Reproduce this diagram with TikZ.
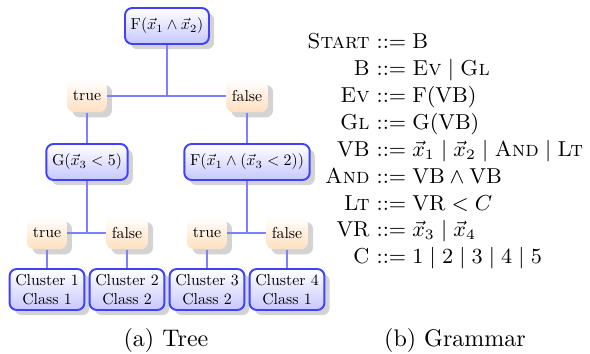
\documentclass[tikz,border=0pt]{standalone}
\usetikzlibrary{shadows}
\begin{document}
\begin{tikzpicture}[x=0.41667pt,y=-0.41667pt,
  bluebox/.style={scale=0.66, draw=blue!75, line width=0.8pt, rounded corners=3pt,
    top color=white, bottom color=blue!22, inner xsep=3.6pt, inner ysep=3pt,
    minimum height=22.7pt, drop shadow={opacity=0.35}, align=center},
  leafbox/.style={bluebox, minimum height=25.9pt},
  orangebox/.style={scale=0.66, rounded corners=3pt,
    top color=white, bottom color=orange!25, inner xsep=3.6pt, inner ysep=3pt,
    minimum height=20.5pt, drop shadow={opacity=0.35}},
  edge/.style={draw=blue!50, line width=0.55pt},
  lhs/.style={anchor=base east, inner sep=0pt, font=\small},
  rhs/.style={anchor=base west, inner sep=0pt, font=\small},
  captext/.style={anchor=base, inner sep=0pt}]
\useasboundingbox (0,0) rectangle (590,354);
% tree
\node[bluebox] (root) at (167,26) {F$(\vec{x}_1 \wedge \vec{x}_2)$};
\node[orangebox] (t1) at (87,96) {true};
\node[orangebox] (f1) at (247,96) {false};
\node[bluebox] (g) at (87,162) {G$(\vec{x}_3 < 5)$};
\node[bluebox] (f) at (247,162) {F$(\vec{x}_1 \wedge (\vec{x}_3 < 2))$};
\node[orangebox] (t2) at (47,233) {true};
\node[orangebox] (f2) at (127,233) {false};
\node[orangebox] (t3) at (207,233) {true};
\node[orangebox] (f3) at (287,233) {false};
\node[leafbox] (c1) at (47,289.5) {Cluster 1\\Class 1};
\node[leafbox] (c2) at (127,289.5) {Cluster 2\\Class 2};
\node[leafbox] (c3) at (207,289.5) {Cluster 3\\Class 2};
\node[leafbox] (c4) at (287,289.5) {Cluster 4\\Class 1};
\draw[edge] (t1.east) -- (f1.west);
\draw[edge] (root.south) -- (root.south |- t1.east);
\draw[edge] (t1.south) -- (g.north);
\draw[edge] (f1.south) -- (f.north);
\draw[edge] (t2.east) -- (f2.west);
\draw[edge] (g.south) -- (g.south |- t2.east);
\draw[edge] (t3.east) -- (f3.west);
\draw[edge] (f.south) -- (f.south |- t3.east);
\draw[edge] (t2.south) -- (c1.north);
\draw[edge] (f2.south) -- (c2.north);
\draw[edge] (t3.south) -- (c3.north);
\draw[edge] (f3.south) -- (c4.north);
\node[captext] (capa) at (166,347) {(a) Tree};
% grammar
\def\gx{370}
\node[lhs] (l1) at (\gx,49) {\textsc{Start}};
\node[rhs] (r1) at (\gx,49) {${}::={}$B};
\node[lhs] (l2) at (\gx,76) {B};
\node[rhs] (r2) at (\gx,76) {${}::= \mbox{\textsc{Ev}} \mid \mbox{\textsc{Gl}}$};
\node[lhs] (l3) at (\gx,103) {\textsc{Ev}};
\node[rhs] (r3) at (\gx,103) {${}::= \mathrm{F}(\mathrm{VB})$};
\node[lhs] (l4) at (\gx,130) {\textsc{Gl}};
\node[rhs] (r4) at (\gx,130) {${}::= \mathrm{G}(\mathrm{VB})$};
\node[lhs] (l5) at (\gx,157) {VB};
\node[rhs] (r5) at (\gx,157) {${}::= \vec{x}_1 \mid \vec{x}_2 \mid \mbox{\textsc{And}} \mid \mbox{\textsc{Lt}}$};
\node[lhs] (l6) at (\gx,184) {\textsc{And}};
\node[rhs] (r6) at (\gx,184) {${}::= \mathrm{VB} \wedge \mathrm{VB}$};
\node[lhs] (l7) at (\gx,211) {\textsc{Lt}};
\node[rhs] (r7) at (\gx,211) {${}::= \mathrm{VR} < C$};
\node[lhs] (l8) at (\gx,237) {VR};
\node[rhs] (r8) at (\gx,237) {${}::= \vec{x}_3 \mid \vec{x}_4$};
\node[lhs] (l9) at (\gx,264) {C};
\node[rhs] (r9) at (\gx,264) {${}::= 1 \mid 2 \mid 3 \mid 4 \mid 5$};
\node[captext] (capb) at (455,347) {(b) Grammar};
\end{tikzpicture}
\end{document}
